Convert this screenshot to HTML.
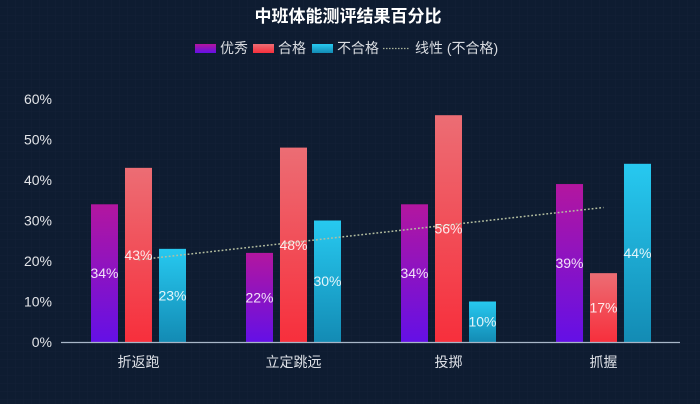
<!DOCTYPE html>
<html>
<head>
<meta charset="utf-8">
<style>
html,body{margin:0;padding:0;background:#0e1c31;}
svg{display:block;}
text{font-family:"Liberation Sans","Noto Sans CJK SC",sans-serif;}
</style>
</head>
<body>
<svg width="700" height="404" viewBox="0 0 700 404" xmlns="http://www.w3.org/2000/svg">
<defs>
<linearGradient id="gp" x1="0" y1="0" x2="0" y2="1">
<stop offset="0" stop-color="#b3169f"/>
<stop offset="1" stop-color="#6410e6"/>
</linearGradient>
<linearGradient id="gr" x1="0" y1="0" x2="0" y2="1">
<stop offset="0" stop-color="#ec6d74"/>
<stop offset="1" stop-color="#f72f3c"/>
</linearGradient>
<linearGradient id="gc" x1="0" y1="0" x2="0" y2="1">
<stop offset="0" stop-color="#27c9f0"/>
<stop offset="1" stop-color="#138bb4"/>
</linearGradient>
<pattern id="grid" width="8" height="8" patternUnits="userSpaceOnUse">
<path d="M8 0V8M0 8H8" stroke="#ffffff" stroke-opacity="0.025" stroke-width="1" fill="none"/>
</pattern>
</defs>
<rect width="700" height="404" fill="#0e1c31"/>
<rect width="700" height="404" fill="url(#grid)"/>

<!-- title -->
<text x="348" y="22" text-anchor="middle" font-size="17" font-weight="bold" fill="#ffffff">中班体能测评结果百分比</text>

<!-- legend -->
<rect x="195" y="44" width="21" height="9" fill="url(#gp)"/>
<text x="220" y="53" font-size="14" fill="#d8dbe0">优秀</text>
<rect x="253" y="44" width="21" height="9" fill="url(#gr)"/>
<text x="278" y="53" font-size="14" fill="#d8dbe0">合格</text>
<rect x="312" y="44" width="21" height="9" fill="url(#gc)"/>
<text x="337" y="53" font-size="14" fill="#d8dbe0">不合格</text>
<line x1="383" y1="48.5" x2="410" y2="48.5" stroke="#a9b39a" stroke-width="1.2" stroke-dasharray="1.5 1.5"/>
<text x="415" y="53" font-size="14" fill="#d8dbe0">线性 (不合格)</text>

<!-- y axis labels -->
<g font-size="14" fill="#e2e4e8" text-anchor="end">
<text x="52" y="104">60%</text>
<text x="52" y="144.5">50%</text>
<text x="52" y="185">40%</text>
<text x="52" y="225.5">30%</text>
<text x="52" y="266">20%</text>
<text x="52" y="306.5">10%</text>
<text x="52" y="347">0%</text>
</g>

<!-- bars -->
<g>
<!-- 折返跑 -->
<rect x="91" y="204.3" width="27" height="137.7" fill="url(#gp)"/>
<rect x="125" y="167.85" width="27" height="174.15" fill="url(#gr)"/>
<rect x="159" y="248.85" width="27" height="93.15" fill="url(#gc)"/>
<!-- 立定跳远 -->
<rect x="246" y="252.9" width="27" height="89.1" fill="url(#gp)"/>
<rect x="280" y="147.6" width="27" height="194.4" fill="url(#gr)"/>
<rect x="314" y="220.5" width="27" height="121.5" fill="url(#gc)"/>
<!-- 投掷 -->
<rect x="401" y="204.3" width="27" height="137.7" fill="url(#gp)"/>
<rect x="435" y="115.2" width="27" height="226.8" fill="url(#gr)"/>
<rect x="469" y="301.5" width="27" height="40.5" fill="url(#gc)"/>
<!-- 抓握 -->
<rect x="556" y="184.05" width="27" height="157.95" fill="url(#gp)"/>
<rect x="590" y="273.15" width="27" height="68.85" fill="url(#gr)"/>
<rect x="624" y="163.8" width="27" height="178.2" fill="url(#gc)"/>
</g>

<!-- axis line -->
<line x1="61" y1="342.5" x2="680" y2="342.5" stroke="#a8b6c8" stroke-width="1.2"/>

<!-- trendline -->
<line x1="138.5" y1="259.8" x2="603.5" y2="207.5" stroke="#b4bea0" stroke-width="1.5" stroke-dasharray="1.8 2"/>

<!-- data labels -->
<g font-size="14" text-anchor="middle" fill="#ffffff" fill-opacity="0.88">
<text x="104.5" y="278">34%</text>
<text x="138.5" y="260">43%</text>
<text x="172.5" y="300.5">23%</text>
<text x="259.5" y="302.5">22%</text>
<text x="293.5" y="250">48%</text>
<text x="327.5" y="286">30%</text>
<text x="414.5" y="278">34%</text>
<text x="448.5" y="233.5">56%</text>
<text x="482.5" y="326.5">10%</text>
<text x="569.5" y="268">39%</text>
<text x="603.5" y="312.5">17%</text>
<text x="637.5" y="258">44%</text>
</g>

<!-- x labels -->
<g font-size="14" text-anchor="middle" fill="#dde0e6">
<text x="138.5" y="367">折返跑</text>
<text x="293.5" y="367">立定跳远</text>
<text x="448.5" y="367">投掷</text>
<text x="603.5" y="367">抓握</text>
</g>
</svg>
</body>
</html>
